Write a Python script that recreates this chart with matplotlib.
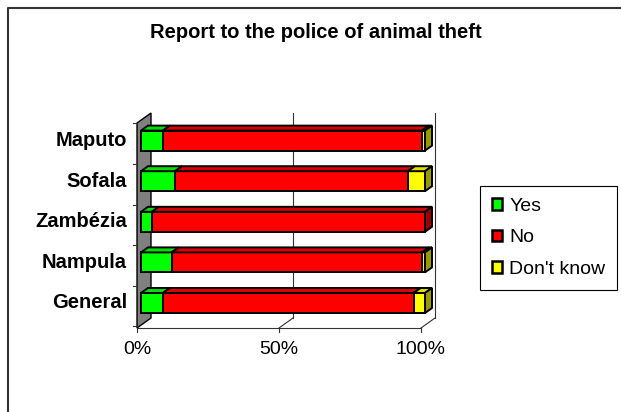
import matplotlib
matplotlib.use("Agg")
import matplotlib.pyplot as plt
from matplotlib.patches import Polygon, Patch
from matplotlib.lines import Line2D

plt.rcParams['font.family'] = ['Liberation Sans', 'DejaVu Sans']

# data (bottom to top)
regions = ['General', 'Nampula', 'Zambézia', 'Sofala', 'Maputo']
yes = [7.7, 10.8, 3.8, 12.0, 7.7]
no = [88.3, 88.1, 96.2, 82.0, 91.2]
dont_know = [4.0, 1.1, 0.0, 6.0, 1.1]
series_names = ['Yes', 'No', "Don't know"]
front_cols = ['#00FF00', '#FF0000', '#FFFF00']
top_cols = ['#00DD00', '#DD0000', '#DDDD00']
side_cols = ['#009900', '#990000', '#999900']
xticks = [0, 50, 100]

W, H = 621, 412
fig = plt.figure(figsize=(W / 100, H / 100), dpi=100)

# pixel helpers for the pseudo-3d frame
PX = 2.84      # px per percent
PY = 40.6      # px per category
def fx(px):
    return (px - 141) / PX
def fy(py):
    return (303 - py) / PY

ax = fig.add_axes([137 / W, (H - 328) / H, 300 / W, 215 / H])
ax.set_xlim(fx(137), fx(437))
ax.set_ylim(fy(328), fy(113))
ax.axis('off')

# wall
ax.add_patch(Polygon([(fx(137), fy(328)), (fx(137), fy(123)), (fx(151), fy(113)),
                      (fx(151), fy(318))], closed=True, facecolor='#808080',
                     edgecolor='black', lw=1, clip_on=False))
# back gridlines and floor
for t in xticks[1:]:
    xb = fx(151) + t
    ax.plot([xb, xb], [fy(318), fy(113)], color='#333333', lw=0.8, clip_on=False)
    ax.plot([fx(137) + t, xb], [fy(328), fy(318)], color='#333333', lw=0.8, clip_on=False)
ax.plot([fx(137), fx(137) + 100], [fy(328), fy(328)], color='#333333', lw=0.8, clip_on=False)
for t in xticks:
    ax.plot([fx(137) + t] * 2, [fy(328), fy(332)], color='#333333', lw=0.8, clip_on=False)
    ax.text(fx(137) + t, fy(350), f'{t}%', ha='center', va='center', fontsize=14)
for i in range(len(regions) + 1):
    yb = i - 0.5 + fy(306)
    ax.plot([fx(133), fx(137)], [yb, yb], color='#333333', lw=0.8, clip_on=False)

# bars
h = 20 / PY
dx, dy = 7 / PX, 5 / PY
vals = [yes, no, dont_know]
for i, name in enumerate(regions):
    left = 0
    last = max(k for k in range(3) if vals[k][i] > 0)
    for k in range(3):
        v = vals[k][i]
        if v <= 0:
            continue
        ax.barh(i, v, left=left, height=h, color=front_cols[k], edgecolor='black',
                lw=1.4, zorder=3)
        yt = i + h / 2
        ax.add_patch(Polygon([(left, yt), (left + v, yt), (left + v + dx, yt + dy),
                              (left + dx, yt + dy)], closed=True, facecolor=top_cols[k],
                             edgecolor='black', lw=1.4, zorder=3, clip_on=False))
        if k == last:
            xe = left + v
            yb = i - h / 2
            ax.add_patch(Polygon([(xe, yb), (xe, yt), (xe + dx, yt + dy), (xe + dx, yb + dy)],
                                 closed=True, facecolor=side_cols[k], edgecolor='black',
                                 lw=1.4, zorder=3, clip_on=False))
        left += v
    ax.text(fx(127), i, name, ha='right', va='center', fontsize=14.5, fontweight='bold')

fig.text(316 / W, 1 - 33 / H, 'Report to the police of animal theft', ha='center',
         va='center', fontsize=14.5, fontweight='bold')

handles = [Patch(facecolor=c, edgecolor='black', lw=1.8) for c in front_cols]
leg = fig.legend(handles, series_names, loc='upper left',
                 bbox_to_anchor=(480 / W, 1 - 186 / H), fontsize=14, frameon=True,
                 fancybox=False, edgecolor='black', framealpha=1, borderaxespad=0,
                 handlelength=0.55, handleheight=0.55, handletextpad=0.35,
                 labelspacing=0.75, borderpad=0.6)
leg.get_frame().set_linewidth(0.8)

# outer border (top and left)
fig.add_artist(Line2D([8 / W, 8 / W, 1], [0, 1 - 8 / H, 1 - 8 / H],
                      transform=fig.transFigure, color='#333333', lw=1.5))

fig.savefig('out.png', dpi=100)
